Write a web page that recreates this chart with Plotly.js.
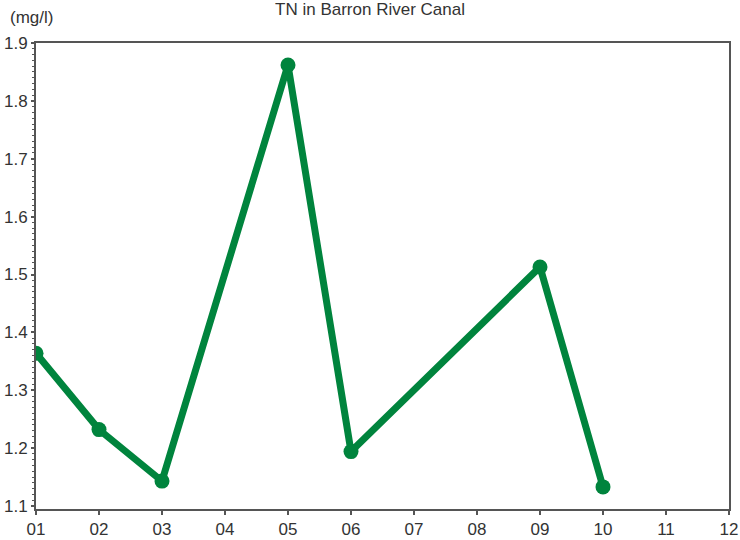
<!DOCTYPE html>
<html>
<head>
<meta charset="utf-8">
<script src="https://cdn.plot.ly/plotly-3.0.1.min.js"></script>
<style>html,body{margin:0;padding:0;background:#fff;}#chart{width:740px;height:540px;}</style>
</head>
<body>
<div id="chart"></div>
<script>
const months = [1, 2, 3, 5, 6, 9, 10];
const tnValues = [1.364, 1.232, 1.143, 1.862, 1.194, 1.513, 1.133];
const tickVals = [1, 2, 3, 4, 5, 6, 7, 8, 9, 10, 11, 12];
const tickLabels = ["01", "02", "03", "04", "05", "06", "07", "08", "09", "10", "11", "12"];

const trace = {
  x: months,
  y: tnValues,
  mode: "lines+markers",
  line: {color: "#00843d", width: 7},
  marker: {color: "#00843d", size: 15},
  hoverinfo: "skip"
};

const layout = {
  width: 740, height: 540,
  margin: {l: 36, r: 11, t: 43, b: 31},
  paper_bgcolor: "#fff", plot_bgcolor: "#fff",
  showlegend: false,
  font: {family: "Liberation Sans, Arial, sans-serif", color: "#333", size: 17},
  title: {text: "TN in Barron River Canal", x: 0.5, xanchor: "center", y: 0.994, yanchor: "top", font: {size: 17, color: "#333"}},
  xaxis: {
    range: [1, 12], tickvals: tickVals, ticktext: tickLabels,
    showgrid: false, zeroline: false, showline: true, linecolor: "#555", linewidth: 2,
    mirror: true, ticks: "outside", ticklen: 4, tickcolor: "#555", tickwidth: 2,
    tickfont: {size: 17, color: "#333"}
  },
  yaxis: {
    range: [1.0948, 1.9], tickvals: [1.1, 1.2, 1.3, 1.4, 1.5, 1.6, 1.7, 1.8, 1.9],
    ticktext: ["1.1", "1.2", "1.3", "1.4", "1.5", "1.6", "1.7", "1.8", "1.9"],
    showgrid: false, zeroline: false, showline: true, linecolor: "#555", linewidth: 2,
    mirror: true, ticks: "outside", ticklen: 3, tickcolor: "#555", tickwidth: 2,
    tickfont: {size: 17, color: "#333"},
    minor: {dtick: 0.01, ticks: "outside", ticklen: 2, tickcolor: "#555", tickwidth: 1, showgrid: false}
  },
  annotations: [{
    text: "(mg/l)", xref: "paper", yref: "paper", x: -0.04, y: 1.03, xanchor: "left", yanchor: "bottom",
    showarrow: false, font: {size: 17, color: "#333"}
  }]
};

Plotly.newPlot("chart", [trace], layout, {displayModeBar: false, staticPlot: true});
</script>
</body>
</html>
